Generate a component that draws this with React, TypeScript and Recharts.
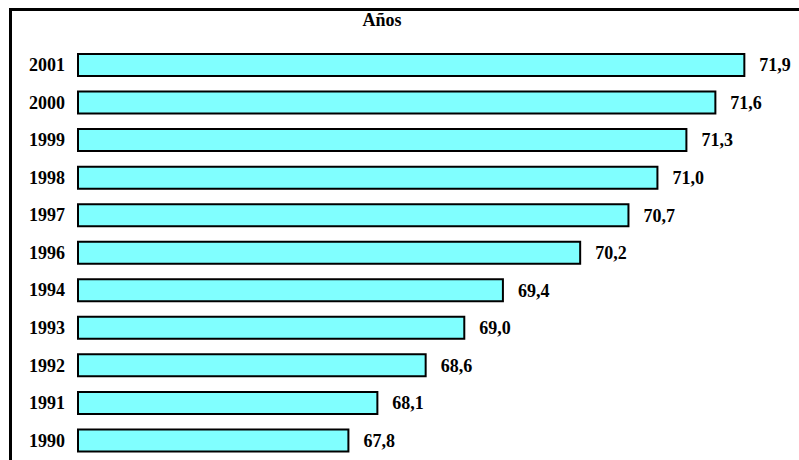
import { BarChart, Bar, XAxis, YAxis, LabelList } from "recharts";

const years = ["2001", "2000", "1999", "1998", "1997", "1996", "1994", "1993", "1992", "1991", "1990"];
const lifeExpectancy = [71.9, 71.6, 71.3, 71.0, 70.7, 70.2, 69.4, 69.0, 68.6, 68.1, 67.8];

const data = years.map((year, i) => ({ year, value: lifeExpectancy[i] }));

const FONT = "'Liberation Serif', 'Times New Roman', serif";

const formatValue = (v: any) => Number(v).toFixed(1).replace(".", ",");

export default function App() {
  return (
    <div
      style={{
        position: "fixed",
        left: 0,
        top: 0,
        width: 799,
        height: 460,
        overflow: "hidden",
        background: "#ffffff",
        fontFamily: FONT,
      }}
    >
      {/* frame, right and bottom edges fall outside the picture */}
      <div
        style={{
          position: "absolute",
          left: 9,
          top: 8,
          width: 820,
          height: 480,
          borderLeft: "3px solid #000",
          borderTop: "3px solid #000",
        }}
      />
      <div
        style={{
          position: "absolute",
          left: 352,
          top: 10,
          width: 60,
          textAlign: "center",
          fontSize: 18,
          lineHeight: "20px",
          fontWeight: "bold",
          color: "#000",
        }}
      >
        Años
      </div>
      <div style={{ position: "absolute", left: 0, top: 0 }}>
        <BarChart
          width={799}
          height={460}
          data={data}
          layout="vertical"
          margin={{ top: 46, right: 45, bottom: 1, left: 0 }}
          barSize={22}
        >
          <XAxis type="number" domain={[65, 72]} hide />
          <YAxis
            type="category"
            dataKey="year"
            width={78}
            axisLine={false}
            tickLine={false}
            tickMargin={7}
            tick={{ fill: "#000", fontSize: 18, fontWeight: "bold", fontFamily: FONT }}
          />
          <Bar dataKey="value" fill="#80FFFF" stroke="#000" strokeWidth={2} isAnimationActive={false}>
            <LabelList
              dataKey="value"
              position="right"
              offset={15}
              formatter={formatValue}
              style={{ fill: "#000", fontSize: 18, fontWeight: "bold", fontFamily: FONT }}
            />
          </Bar>
        </BarChart>
      </div>
    </div>
  );
}
